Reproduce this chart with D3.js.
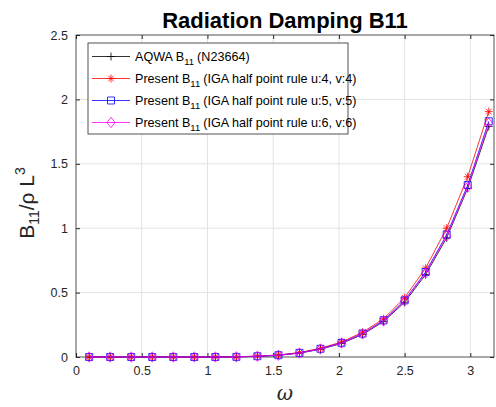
<!DOCTYPE html>
<html>
<head>
<meta charset="utf-8">
<script src="https://cdn.jsdelivr.net/npm/d3@7"></script>
<style>
  body { margin: 0; background: #fff; }
  text { font-family: "Liberation Sans", Arial, sans-serif; }
</style>
</head>
<body>
<div id="chart"></div>
<script>
const omega = [0.1, 0.26, 0.42, 0.58, 0.74, 0.9, 1.06, 1.22, 1.38, 1.54, 1.7, 1.86, 2.02, 2.18, 2.34, 2.5, 2.66, 2.82, 2.98, 3.14];
const aqwa = [0, 0, 0, 0, 0, 0, 0, 0.001, 0.005, 0.013, 0.03, 0.06, 0.105, 0.175, 0.275, 0.425, 0.64, 0.925, 1.31, 1.79];
const igaU4 = [0, 0, 0, 0, 0, 0, 0, 0.002, 0.007, 0.016, 0.035, 0.068, 0.117, 0.192, 0.297, 0.46, 0.69, 1.0, 1.4, 1.905];
const igaU5 = [0, 0, 0, 0, 0, 0, 0, 0.001, 0.006, 0.014, 0.032, 0.064, 0.11, 0.182, 0.285, 0.44, 0.66, 0.95, 1.335, 1.83];
const igaU6 = [0, 0, 0, 0, 0, 0, 0, 0.001, 0.006, 0.014, 0.031, 0.062, 0.108, 0.179, 0.28, 0.435, 0.652, 0.94, 1.32, 1.815];
const xTicks = [0, 0.5, 1, 1.5, 2, 2.5, 3];
const yTicks = [0, 0.5, 1, 1.5, 2, 2.5];

const series = [
  { name: "AQWA", rest: "(N23664)", values: aqwa, color: "#000000", marker: "plus" },
  { name: "Present", rest: "(IGA half point rule u:4, v:4)", values: igaU4, color: "#ff0000", marker: "star" },
  { name: "Present", rest: "(IGA half point rule u:5, v:5)", values: igaU5, color: "#0000ff", marker: "square" },
  { name: "Present", rest: "(IGA half point rule u:6, v:6)", values: igaU6, color: "#ff00ff", marker: "diamond" }
];

const W = 496, H = 407;
const margin = { top: 35, right: 2, bottom: 50, left: 76 };
const width = W - margin.left - margin.right;
const height = H - margin.top - margin.bottom;
const axisColor = "#262626";

const svg = d3.select("#chart").append("svg")
  .attr("width", W).attr("height", H);

const g = svg.append("g")
  .attr("transform", `translate(${margin.left}, ${margin.top})`);

const xScale = d3.scaleLinear().domain([0, 3.18]).range([0, width]);
const yScale = d3.scaleLinear().domain([0, 2.5]).range([height, 0]);

// grid
g.append("g").selectAll("line").data(xTicks.slice(1)).join("line")
  .attr("x1", d => xScale(d)).attr("x2", d => xScale(d))
  .attr("y1", 0).attr("y2", height)
  .attr("stroke", "#e3e3e3").attr("stroke-width", 1);
g.append("g").selectAll("line").data(yTicks.slice(1, -1)).join("line")
  .attr("y1", d => yScale(d)).attr("y2", d => yScale(d))
  .attr("x1", 0).attr("x2", width)
  .attr("stroke", "#e3e3e3").attr("stroke-width", 1);

// axes (ticks inside like matlab)
const styleAxis = sel => {
  sel.select(".domain").remove();
  sel.selectAll(".tick line").attr("stroke", axisColor);
  sel.selectAll(".tick text").attr("fill", axisColor).style("font-size", "12.5px")
    .style("font-family", "Liberation Sans, Arial, sans-serif");
};

g.append("g").attr("transform", `translate(0, ${height})`)
  .call(d3.axisBottom(xScale).tickValues(xTicks).tickFormat(d3.format("")).tickSizeInner(-4).tickPadding(9))
  .call(styleAxis);
g.append("g")
  .call(d3.axisLeft(yScale).tickValues(yTicks).tickFormat(d3.format("")).tickSizeInner(-4).tickPadding(8))
  .call(styleAxis);
g.append("g")
  .call(d3.axisTop(xScale).tickValues(xTicks).tickFormat("").tickSizeInner(-4))
  .call(styleAxis);
g.append("g").attr("transform", `translate(${width}, 0)`)
  .call(d3.axisRight(yScale).tickValues(yTicks).tickFormat("").tickSizeInner(-4))
  .call(styleAxis);

g.append("rect").attr("x", 0).attr("y", 0).attr("width", width).attr("height", height)
  .attr("fill", "none").attr("stroke", axisColor).attr("stroke-width", 0.8);

const markerPath = (type, size) => {
  const s = size;
  if (type === "plus") return `M${-s},0H${s}M0,${-s}V${s}`;
  if (type === "star") {
    const d = s * 0.7;
    return `M${-s},0H${s}M0,${-s}V${s}M${-d},${-d}L${d},${d}M${-d},${d}L${d},${-d}`;
  }
  if (type === "square") return `M${-s},${-s}H${s}V${s}H${-s}Z`;
  if (type === "diamond") return `M0,${-s * 1.3}L${s},0L0,${s * 1.3}L${-s},0Z`;
};

const line = d3.line().x(d => xScale(d[0])).y(d => yScale(d[1]));

series.forEach(s => {
  const pts = omega.map((w, i) => [w, s.values[i]]);
  g.append("path").datum(pts)
    .attr("fill", "none").attr("stroke", s.color).attr("stroke-width", 0.8)
    .attr("d", line);
  g.append("g").selectAll("path").data(pts).join("path")
    .attr("transform", d => `translate(${xScale(d[0])}, ${yScale(d[1])})`)
    .attr("d", markerPath(s.marker, s.marker === "square" ? 3.5 : 4))
    .attr("fill", "none").attr("stroke", s.color).attr("stroke-width", 0.8);
});

// legend
const legend = g.append("g").attr("transform", `translate(${88 - margin.left}, ${43 - margin.top})`);
legend.append("rect").attr("width", 260).attr("height", 91)
  .attr("fill", "#fff").attr("stroke", axisColor).attr("stroke-width", 0.8);
series.forEach((s, i) => {
  const y = 13.5 + i * 22;
  legend.append("line").attr("x1", 4).attr("x2", 42).attr("y1", y).attr("y2", y)
    .attr("stroke", s.color).attr("stroke-width", 0.8);
  legend.append("path").attr("transform", `translate(23, ${y})`)
    .attr("d", markerPath(s.marker, s.marker === "square" ? 3.5 : 4))
    .attr("fill", "none").attr("stroke", s.color).attr("stroke-width", 0.8);
  const t = legend.append("text").attr("x", 47).attr("y", y + 4.5)
    .style("font-size", "12.6px").attr("fill", "#000");
  t.append("tspan").text(s.name + " B");
  t.append("tspan").attr("dy", 4).style("font-size", "9.5px").text("11");
  t.append("tspan").attr("dy", -4).attr("dx", 3).text(s.rest);
});

// title
svg.append("text").attr("x", margin.left + width / 2).attr("y", 28)
  .attr("text-anchor", "middle").style("font-size", "22px").style("font-weight", "bold")
  .attr("fill", "#000").text("Radiation Damping B11");

// x label
svg.append("text").attr("x", margin.left + width / 2).attr("y", 400)
  .attr("text-anchor", "middle").style("font-size", "20px").style("font-style", "italic")
  .style("font-family", "DejaVu Serif, serif").attr("fill", axisColor).text("ω");

// y label
const yl = svg.append("text")
  .attr("transform", `translate(34, 203) rotate(-90)`)
  .attr("text-anchor", "middle").style("font-size", "21px").attr("fill", axisColor);
yl.append("tspan").text("B");
yl.append("tspan").attr("dy", 5).style("font-size", "14px").text("11");
yl.append("tspan").attr("dy", -5).text("/ρ L");
yl.append("tspan").attr("dy", -9).style("font-size", "14px").text("3");
</script>
</body>
</html>
